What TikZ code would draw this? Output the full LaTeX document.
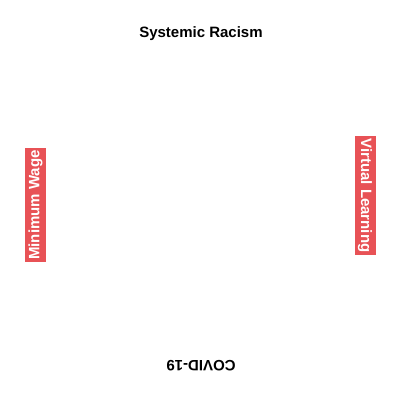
\documentclass[tikz,border=0pt]{standalone}
\usepackage{fontspec}
\setmainfont{Liberation Sans}
\usetikzlibrary{positioning}
\definecolor{tomato}{RGB}{232,82,86}
\definecolor{ink}{RGB}{0,0,0}
\tikzset{
  label text/.style={font=\fontsize{11.25}{13.5}\selectfont\bfseries,text=ink,inner sep=0pt},
  tag box/.style={fill=#1,text=white,font=\fontsize{11.25}{13.5}\selectfont\bfseries,
    inner xsep=2pt,inner ysep=0pt,minimum height=15.75pt},
  tag box/.default=tomato,
}
\begin{document}
\begin{tikzpicture}[x=0.75pt,y=-0.75pt]
  \useasboundingbox (0,0) rectangle (400,400);
  % four sides
  \node[label text] (title) at (201,34) {Systemic Racism};
  \node[tag box,rotate=90] (wage) at (35.5,205) {Minimum Wage};
  \node[tag box,rotate=-90] (learning) at (365,195.5) {Virtual Learning};
  \node[label text,rotate=180] (covid) at (201,366) {COVID-19};
\end{tikzpicture}
\end{document}
